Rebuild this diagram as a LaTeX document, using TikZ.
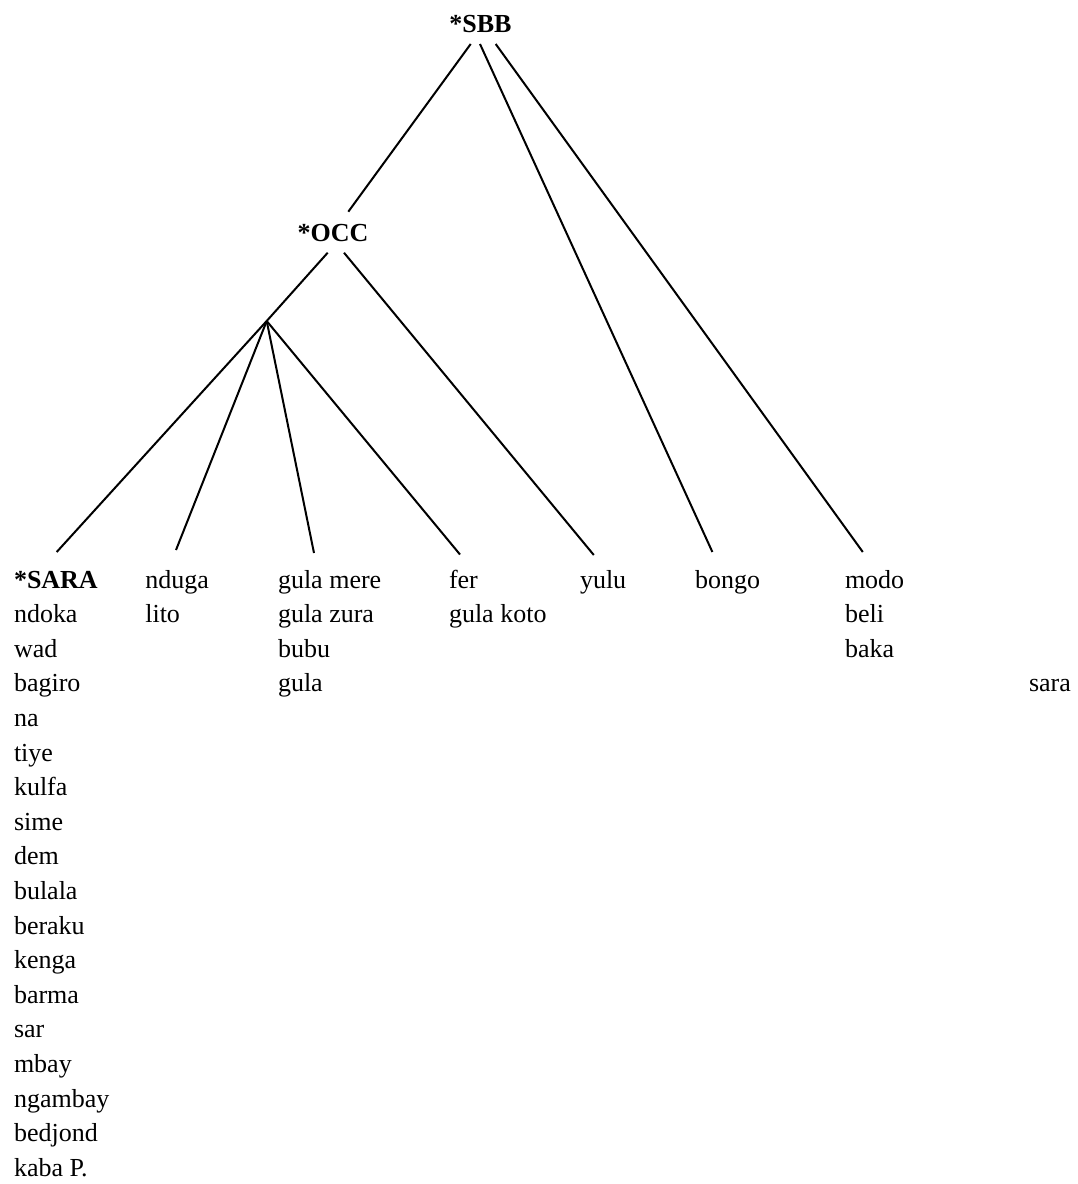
\documentclass[tikz,border=0pt]{standalone}
\usepackage{fontspec}
\setmainfont{Liberation Serif}
\begin{document}
\begin{tikzpicture}[x=0.5pt,y=-0.5pt,line width=1pt,
    word/.style={anchor=base west,inner sep=0pt,font=\fontsize{13}{15.6}\selectfont},
    group/.style={word,font=\fontsize{13}{15.6}\selectfont\bfseries}]
        \useasboundingbox (0,0) rectangle (1077,1184);
        % proto-languages
        \node[group] (sbb) at (448.3,32.3) {*SBB};
        \node[group] (occ) at (296.7,241) {*OCC};
        \path (266.7,321) coordinate (J);
        % leaves, first row
        \node[group] (sara) at (13,588) {*SARA};
        \node[word] (nduga) at (144.3,588) {nduga};
        \node[word] (gula) at (277,588) {gula mere};
        \node[word] (fer) at (448,588) {fer};
        \node[word] (yulu) at (579,588) {yulu};
        \node[word] (bongo) at (694,588) {bongo};
        \node[word] (modo) at (844,588) {modo};
        \node[word] (sara2) at (1028,{588+3*34.6}) {sara};
        % the rest of each column
        \foreach \w [count=\i] in {ndoka, wad, bagiro, na, tiye, kulfa, sime, dem, bulala,
            beraku, kenga, barma, sar, mbay, ngambay, bedjond, kaba P.}
            \node[word] (sara-\i) at (13,{588+34.6*\i}) {\w};
        \node[word] (nduga-1) at (144.3,{588+34.6}) {lito};
        \foreach \w [count=\i] in {gula zura, bubu, gula}
            \node[word] (gula-\i) at (277,{588+34.6*\i}) {\w};
        \node[word] (fer-1) at (448,{588+34.6}) {gula koto};
        \foreach \w [count=\i] in {beli, baka}
            \node[word] (modo-\i) at (844,{588+34.6*\i}) {\w};
        % branches
        \draw ([shift={(22.4,11.7)}]sbb.base west) -- ([shift={(51.6,-29.3)}]occ.base west);
        \draw ([shift={(31.7,11.7)}]sbb.base west) -- ([shift={(18.4,-36)}]bongo.base west);
        \draw ([shift={(47.4,11.7)}]sbb.base west) -- ([shift={(18.8,-36)}]modo.base west);
        \draw ([shift={(31,11.7)}]occ.base west) -- (J);
        \draw ([shift={(47.3,11.7)}]occ.base west) -- ([shift={(14.8,-33)}]yulu.base west);
        \draw (J) -- ([shift={(43.7,-36)}]sara.base west);
        \draw (J) -- ([shift={(31.7,-38)}]nduga.base west);
        \draw (J) -- ([shift={(37,-35)}]gula.base west);
        \draw (J) -- ([shift={(12,-33.5)}]fer.base west);
\end{tikzpicture}
\end{document}
